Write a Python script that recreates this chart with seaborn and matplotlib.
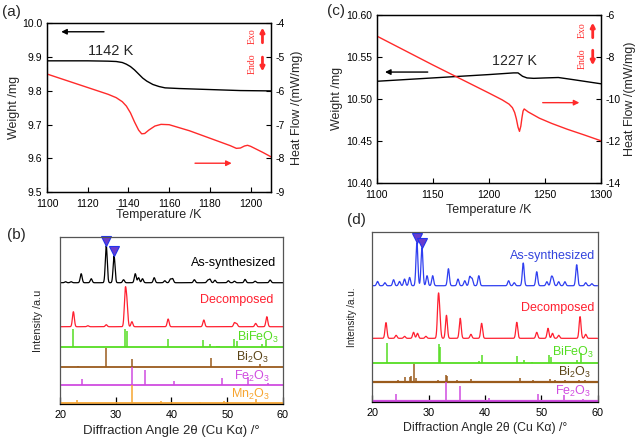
import numpy as np
import matplotlib
matplotlib.use("Agg")
import matplotlib.pyplot as plt
import seaborn as sns

# ---------------- data: (a) TG / DSC ----------------
a_temp_w = [1100, 1120, 1130, 1134, 1137, 1139, 1141, 1143, 1145, 1147, 1149, 1152, 1155, 1158, 1165, 1180, 1195, 1210]
a_weight = [9.889, 9.889, 9.888, 9.887, 9.884, 9.879, 9.872, 9.862, 9.850, 9.838, 9.829, 9.819, 9.813, 9.809, 9.807, 9.804, 9.801, 9.800]
a_temp_h = [1100, 1110, 1120, 1130, 1134, 1137, 1139, 1141, 1143, 1145, 1146.5, 1148, 1150, 1153, 1156, 1160, 1170, 1180,
            1190, 1193, 1195, 1197, 1198.5, 1200, 1203, 1206, 1210]
a_heat = [-5.50, -5.70, -5.90, -6.10, -6.20, -6.32, -6.45, -6.65, -6.92, -7.16, -7.27, -7.26, -7.16, -7.04, -6.99, -7.00,
          -7.18, -7.40, -7.62, -7.70, -7.69, -7.63, -7.61, -7.64, -7.73, -7.82, -7.95]
a_xticks = [1100, 1120, 1140, 1160, 1180, 1200]
a_wticks = [9.5, 9.6, 9.7, 9.8, 9.9, 10.0]
a_hticks = [-9, -8, -7, -6, -5, -4]

# ---------------- data: (c) TG / DSC ----------------
c_temp_w = [1100, 1150, 1200, 1222, 1226, 1228, 1230, 1234, 1240, 1250, 1262, 1275, 1290, 1300]
c_weight = [10.521, 10.525, 10.529, 10.531, 10.531, 10.529, 10.527, 10.525, 10.5245, 10.525, 10.5255, 10.523, 10.520, 10.518]
c_temp_h = [1100, 1150, 1200, 1212, 1218, 1221, 1223, 1224.5, 1226, 1227.3, 1228.5, 1229.5, 1230.5, 1231.5, 1235, 1245,
            1256, 1270, 1285, 1300]
c_heat = [-7.0, -8.38, -9.72, -10.05, -10.25, -10.42, -10.65, -10.95, -11.35, -11.55, -11.30, -10.90, -10.58, -10.48,
          -10.62, -10.92, -11.17, -11.45, -11.72, -12.0]
c_xticks = [1100, 1150, 1200, 1250, 1300]
c_wticks = [10.40, 10.45, 10.50, 10.55, 10.60]
c_hticks = [-14, -12, -10, -8, -6]

# ---------------- data: (b) XRD ----------------
b_asyn_pos = [21.0, 22.0, 23.8, 25.6, 28.3, 29.7, 31.4, 33.5, 34.1, 34.8, 36.9, 38.8, 39.8, 40.2, 44.1, 46.5, 46.9, 47.8, 50.2, 51.3, 53.2, 55.0, 57.7]
b_asyn_h = [1.0, 1.0, 9.0, 4.0, 37.0, 27.0, 3.0, 9.0, 5.0, 4.0, 5.0, 2.0, 3.5, 4.0, 3.0, 2.5, 3.5, 2.5, 2.0, 1.5, 3.3, 1.5, 2.7]
b_dec_pos = [22.4, 25.0, 28.3, 31.7, 32.0, 32.9, 39.4, 45.8, 51.3, 51.7, 55.1, 57.1]
b_dec_h = [15.0, 1.0, 2.0, 34.0, 22.0, 5.0, 7.7, 6.7, 4.0, 3.0, 3.3, 10.0]
b_bfo_pos = [22.4, 31.7, 32.0, 39.4, 45.7, 46.9, 48.2, 48.6, 51.3, 51.7, 56.3, 57.0]
b_bfo_h = [18.3, 18.3, 16.0, 8.3, 6.7, 3.0, 1.2, 1.2, 8.0, 6.0, 3.0, 7.5]
b_bi2o3_pos = [23.2, 28.3, 32.9, 47.1, 55.9]
b_bi2o3_h = [1.0, 19.0, 7.5, 8.3, 2.5]
b_fe2o3_pos = [23.9, 33.0, 35.2, 40.5, 49.0, 53.7, 57.3]
b_fe2o3_h = [6.0, 18.0, 15.0, 4.0, 7.0, 8.0, 2.0]
b_mn2o3_pos = [23.1, 33.0, 38.2, 45.2, 49.4, 55.2]
b_mn2o3_h = [3.0, 17.7, 2.0, 1.5, 2.0, 4.0]
b_marked = [28.3, 29.7]

# ---------------- data: (d) XRD ----------------
d_asyn_pos = [20.9, 22.2, 23.75, 24.8, 25.7, 26.6, 27.9, 28.8, 29.7, 30.7, 33.5, 35.2, 36.4, 37.3, 37.7, 38.9, 44.2, 45.2,
              46.8, 49.2, 51.0, 51.8, 52.1, 53.1, 54.2, 56.3, 57.9, 59.0]
d_asyn_h = [4.3, 3.0, 6.0, 4.3, 6.7, 8.3, 43.0, 38.0, 10.0, 10.0, 17.0, 6.7, 5.0, 9.0, 7.0, 10.0, 5.0, 3.0,
            22.7, 14.0, 4.0, 8.0, 6.0, 4.0, 4.0, 21.0, 3.0, 2.0]
d_dec_pos = [22.4, 24.2, 25.7, 27.3, 28.0, 29.5, 31.7, 31.95, 33.15, 35.6, 37.5, 39.4, 45.65, 49.2, 51.2, 52.0, 53.1, 56.9, 57.9]
d_dec_h = [15.7, 3.0, 2.0, 6.0, 5.0, 2.0, 38.0, 18.0, 23.0, 20.0, 4.0, 15.0, 16.0, 6.0, 10.0, 5.0, 3.0, 21.7, 4.0]
d_bfo_pos = [22.5, 31.75, 32.05, 38.9, 39.5, 45.75, 46.9, 48.3, 51.3, 51.75, 56.4, 57.1]
d_bfo_h = [19.3, 18.7, 16.0, 2.0, 8.0, 6.7, 2.5, 1.0, 8.0, 6.0, 3.0, 9.5]
d_bi2o3_pos = [21.8, 24.6, 25.8, 26.6, 26.9, 27.35, 27.8, 30.2, 31.7, 33.0, 33.2, 35.0, 37.6, 39.7, 42.3, 43.7, 46.2,
               48.5, 49.1, 51.6, 52.4, 54.3, 55.5, 56.7, 57.8]
d_bi2o3_h = [1.0, 1.5, 4.3, 5.0, 6.0, 18.0, 4.0, 1.0, 1.5, 7.0, 6.0, 2.0, 2.5, 1.0, 1.0, 1.0, 3.5,
             1.5, 1.0, 2.5, 1.5, 1.5, 1.0, 1.5, 1.5]
d_fe2o3_pos = [24.2, 33.1, 35.6, 40.8, 49.4, 54.0, 57.5]
d_fe2o3_h = [7.0, 18.7, 14.3, 3.0, 7.0, 6.0, 2.0]
d_marked = [27.9, 28.8]

xrd_ticks = [20, 30, 40, 50, 60]
# vertical offsets of the stacked patterns (axis units)
b_offsets = {"asyn": 121.3, "dec": 77.3, "bfo": 57.0, "bi2o3": 37.3, "fe2o3": 19.0, "mn2o3": 1.0}
d_offsets = {"asyn": 116.0, "dec": 63.4, "bfo": 39.0, "bi2o3": 20.0, "fe2o3": 1.2}

# ---------------- style ----------------
sns.set_theme(style="ticks")
plt.rcParams['font.family'] = ['Liberation Sans', 'DejaVu Sans']
plt.rcParams['mathtext.default'] = 'regular'
plt.rcParams['axes.linewidth'] = 0.9
plt.rcParams['xtick.direction'] = 'in'
plt.rcParams['ytick.direction'] = 'in'

RED = '#ff2a2a'
fig = plt.figure(figsize=(6.4, 4.4), dpi=100)


def style_ticks(ax, labelsize=7.5):
    ax.tick_params(axis='both', length=3.5, width=0.8, labelsize=labelsize, colors='black')
    ax.tick_params(axis='x', pad=5)
    ax.tick_params(axis='y', pad=3.5)


def tg_panel(rect, tw, w, th, h, xlim, wlim, hlim, xt, wt, ht, wfmt, label_pos):
    ax = fig.add_axes(rect)
    sns.lineplot(x=tw, y=w, ax=ax, color='black', lw=1.0, sort=False)
    ax.set_xlim(*xlim)
    ax.set_ylim(*wlim)
    ax.set_xticks(xt)
    ax.set_yticks(wt)
    ax.set_yticklabels([wfmt.format(v) for v in wt])
    style_ticks(ax)
    ax2 = ax.twinx()
    sns.lineplot(x=th, y=h, ax=ax2, color=RED, lw=1.0, sort=False)
    ax2.set_ylim(*hlim)
    ax2.set_yticks(ht)
    ax2.set_yticklabels([str(v) for v in ht])
    style_ticks(ax2)
    ax.set_xlabel('Temperature /K', fontsize=9)
    ax.set_ylabel('Weight /mg', fontsize=9)
    ax2.set_ylabel('Heat Flow /(mW/mg)', fontsize=9)
    ax.xaxis.label.set_va('center')
    ax.yaxis.label.set_va('center')
    ax2.yaxis.label.set_va('center')
    ax.xaxis.set_label_coords(0.5, label_pos[0])
    ax.yaxis.set_label_coords(label_pos[1], 0.5)
    ax2.yaxis.set_label_coords(label_pos[2], 0.5)
    for a in (ax, ax2):
        a.grid(False)
        for s in a.spines.values():
            s.set_color('black')
    return ax, ax2


def exo_endo(ax, xt, xa, yexo, yendo, up, down):
    ax.text(xt, yexo, 'Exo', transform=ax.transAxes, rotation=90, color=RED, fontsize=7,
            family='Liberation Serif', ha='center', va='center')
    ax.text(xt, yendo, 'Endo', transform=ax.transAxes, rotation=90, color=RED, fontsize=7,
            family='Liberation Serif', ha='center', va='center')
    ax.annotate('', xy=(xa, up[1]), xytext=(xa, up[0]), xycoords='axes fraction',
                arrowprops=dict(arrowstyle='-|>', color=RED, lw=2.0, mutation_scale=6, shrinkA=0, shrinkB=0))
    ax.annotate('', xy=(xa, down[1]), xytext=(xa, down[0]), xycoords='axes fraction',
                arrowprops=dict(arrowstyle='-|>', color=RED, lw=2.0, mutation_scale=6, shrinkA=0, shrinkB=0))


# ---- (a) ----
axA, axA2 = tg_panel([0.0734, 0.5630, 0.350, 0.3840], a_temp_w, a_weight, a_temp_h, a_heat,
                     (1100, 1210), (9.5, 10.0), (-9, -4), a_xticks, a_wticks, a_hticks, "{:.1f}",
                     (-0.135, -0.145, 1.115))
axA.annotate('', xy=(1107, 9.975), xytext=(1128, 9.975),
             arrowprops=dict(arrowstyle='-|>', color='black', lw=1.0, mutation_scale=8, shrinkA=0, shrinkB=0))
axA.text(1120.3, 9.919, '1142 K', fontsize=10.5, va='center', ha='left')
axA2.annotate('', xy=(1190.7, -8.14), xytext=(1172.7, -8.14),
              arrowprops=dict(arrowstyle='-|>', color=RED, lw=1.0, mutation_scale=8, shrinkA=0, shrinkB=0))
exo_endo(axA2, 0.915, 0.962, 0.925, 0.76, (0.885, 0.975), (0.80, 0.715))

# ---- (c) ----
axC, axC2 = tg_panel([0.5886, 0.5847, 0.3505, 0.3811], c_temp_w, c_weight, c_temp_h, c_heat,
                     (1100, 1300), (10.40, 10.60), (-14, -6), c_xticks, c_wticks, c_hticks, "{:.2f}",
                     (-0.163, -0.178, 1.13))
axC.annotate('', xy=(1107.4, 10.532), xytext=(1145.5, 10.532),
             arrowprops=dict(arrowstyle='-|>', color='black', lw=1.0, mutation_scale=8, shrinkA=0, shrinkB=0))
axC.text(1202.5, 10.545, '1227 K', fontsize=10.2, va='center', ha='left')
axC2.annotate('', xy=(1280.7, -10.18), xytext=(1248, -10.18),
              arrowprops=dict(arrowstyle='-|>', color=RED, lw=1.0, mutation_scale=8, shrinkA=0, shrinkB=0))
exo_endo(axC2, 0.9175, 0.963, 0.908, 0.741, (0.865, 0.955), (0.79, 0.70))

# ---- XRD helpers ----
grid = np.linspace(20, 60, 4001)


def pattern(pos, h, base, sigma=0.17):
    y = np.full_like(grid, base)
    for p, hh in zip(pos, h):
        y = y + hh * np.exp(-0.5 * ((grid - p) / sigma) ** 2)
    return y


def sticks(ax, pos, h, base, color, lw_base=1.3):
    ax.hlines(base, 20, 60, color=color, lw=lw_base)
    ax.vlines(pos, base, [base + v for v in h], color=color, lw=1.1)


def xrd_axes(rect, ylim, xlab_size, lab_y):
    ax = fig.add_axes(rect)
    ax.set_xlim(20, 60)
    ax.set_ylim(*ylim)
    ax.set_xticks(xrd_ticks)
    ax.set_yticks([])
    ax.tick_params(axis='x', length=5, width=0.9, labelsize=7.8, pad=4.5, colors='black', direction='in')
    ax.grid(False)
    for k, s in ax.spines.items():
        s.set_color('#555555' if k != 'bottom' else 'black')
        s.set_linewidth(0.9)
    ax.set_xlabel('Diffraction Angle 2θ (Cu Kα) /°', fontsize=xlab_size)
    ax.xaxis.label.set_va('center')
    ax.yaxis.label.set_va('center')
    ax.xaxis.set_label_coords(0.5, lab_y)
    return ax


BLUE = '#2f3ff0'
DRED = '#ff2030'
GREEN = '#55dd22'
BROWN = '#9a5b1c'
MAG = '#d04ce0'
ORANGE = '#f7a530'

# ---- (b) ----
axB = xrd_axes([0.09375, 0.0818, 0.3484, 0.3795], (0, 167), 9.5, -0.16)
axB.set_ylabel('Intensity /a.u', fontsize=7.8)
axB.yaxis.set_label_coords(-0.1, 0.5)
sns.lineplot(x=grid, y=pattern(b_asyn_pos, b_asyn_h, b_offsets["asyn"]), ax=axB, color='black', lw=0.9)
sns.lineplot(x=grid, y=pattern(b_dec_pos, b_dec_h, b_offsets["dec"]), ax=axB, color=DRED, lw=0.9)
sticks(axB, b_bfo_pos, b_bfo_h, b_offsets["bfo"], GREEN)
sticks(axB, b_bi2o3_pos, b_bi2o3_h, b_offsets["bi2o3"], BROWN)
sticks(axB, b_fe2o3_pos, b_fe2o3_h, b_offsets["fe2o3"], MAG)
sticks(axB, b_mn2o3_pos, b_mn2o3_h, b_offsets["mn2o3"], ORANGE)
for p in b_marked:
    top = b_offsets["asyn"] + b_asyn_h[b_asyn_pos.index(p)]
    axB.plot([p], [top + 4.5], marker='v', markersize=6.5, color='#6a3ccc', markeredgecolor='#2233ee',
             markeredgewidth=0.8, clip_on=False)
fs = 9
axB.text(58.7, 141.3, 'As-synthesized', color='black', fontsize=fs, ha='right', va='center')
axB.text(58.2, 104.0, 'Decomposed', color=DRED, fontsize=fs, ha='right', va='center')
axB.text(59.3, 66.3, 'BiFeO$_3$', color=GREEN, fontsize=fs, ha='right', va='center')
axB.text(57.5, 47.0, 'Bi$_2$O$_3$', color='#5a4418', fontsize=fs, ha='right', va='center')
axB.text(57.7, 28.0, 'Fe$_2$O$_3$', color=MAG, fontsize=fs, ha='right', va='center')
axB.text(57.7, 10.0, 'Mn$_2$O$_3$', color=ORANGE, fontsize=fs, ha='right', va='center')

# ---- (d) ----
axD = xrd_axes([0.5820, 0.0870, 0.3516, 0.3850], (0, 169.4), 8.8, -0.153)
axD.set_ylabel('Intensity /a.u.', fontsize=7.2)
axD.yaxis.set_label_coords(-0.091, 0.5)
sns.lineplot(x=grid, y=pattern(d_asyn_pos, d_asyn_h, d_offsets["asyn"]), ax=axD, color=BLUE, lw=0.9)
sns.lineplot(x=grid, y=pattern(d_dec_pos, d_dec_h, d_offsets["dec"]), ax=axD, color=DRED, lw=0.9)
sticks(axD, d_bfo_pos, d_bfo_h, d_offsets["bfo"], GREEN)
sticks(axD, d_bi2o3_pos, d_bi2o3_h, d_offsets["bi2o3"], BROWN, lw_base=1.6)
sticks(axD, d_fe2o3_pos, d_fe2o3_h, d_offsets["fe2o3"], MAG, lw_base=1.6)
for p in d_marked:
    top = d_offsets["asyn"] + d_asyn_h[d_asyn_pos.index(p)]
    axD.plot([p], [top + 4.5], marker='v', markersize=6.5, color='#6a3ccc', markeredgecolor='#2233ee',
             markeredgewidth=0.8, clip_on=False)
axD.text(59.66, 146.0, 'As-synthesized', color='#3344dd', fontsize=fs, ha='right', va='center')
axD.text(59.36, 93.4, 'Decomposed', color=DRED, fontsize=fs, ha='right', va='center')
axD.text(59.4, 49.4, 'BiFeO$_3$', color=GREEN, fontsize=fs, ha='right', va='center')
axD.text(58.8, 29.0, 'Bi$_2$O$_3$', color='#5a4418', fontsize=fs, ha='right', va='center')
axD.text(58.8, 10.0, 'Fe$_2$O$_3$', color=MAG, fontsize=fs, ha='right', va='center')

# ---- panel letters ----
fig.text(0.003, 0.9716, '(a)', fontsize=11, va='center', ha='left')
fig.text(0.511, 0.976, '(c)', fontsize=11, va='center', ha='left')
fig.text(0.011, 0.466, '(b)', fontsize=11, va='center', ha='left')
fig.text(0.542, 0.500, '(d)', fontsize=11, va='center', ha='left')

fig.savefig('out.png', dpi=100)
